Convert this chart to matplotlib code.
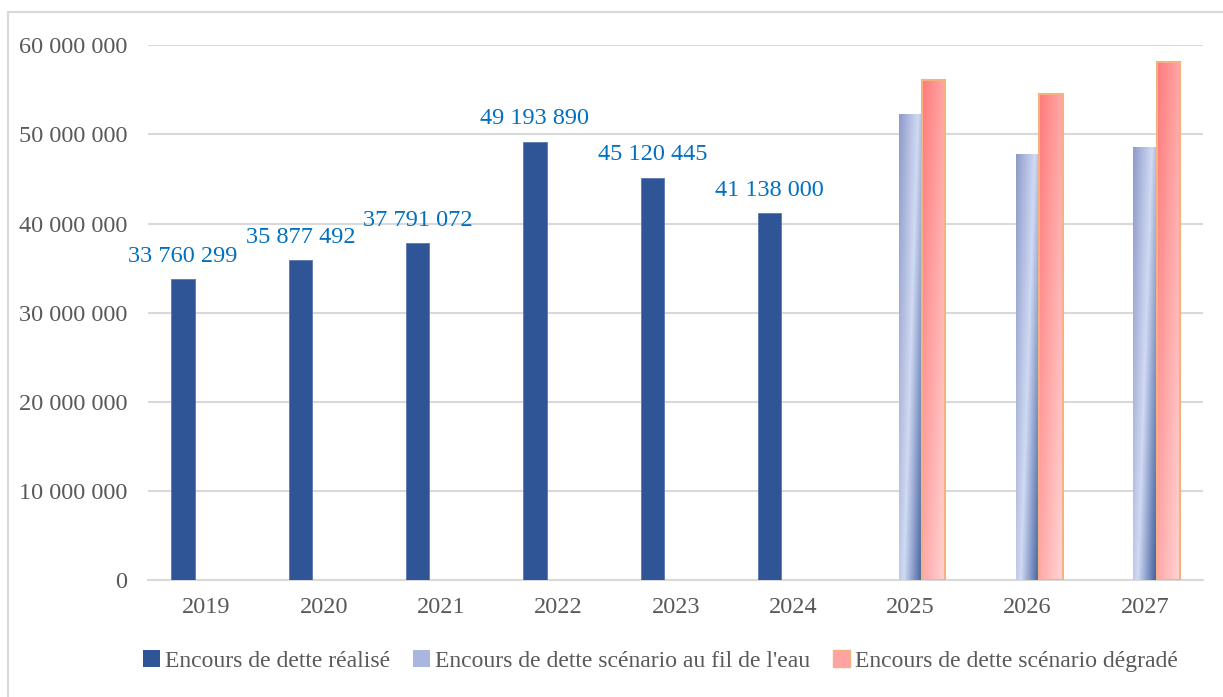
import numpy as np
import matplotlib.pyplot as plt
from matplotlib.patches import Rectangle, Patch
from matplotlib.colors import LinearSegmentedColormap

plt.rcParams['font.family'] = ['Liberation Serif', 'DejaVu Serif']

years = ['2019', '2020', '2021', '2022', '2023', '2024', '2025', '2026', '2027']
realise = [33760299, 35877492, 37791072, 49193890, 45120445, 41138000, 0, 0, 0]
fil_eau = [0, 0, 0, 0, 0, 0, 52300000, 47700000, 48500000]
degrade = [0, 0, 0, 0, 0, 0, 56100000, 54500000, 58100000]
labels = ['Encours de dette réalisé',
          "Encours de dette scénario au fil de l'eau",
          'Encours de dette scénario dégradé']

fig = plt.figure(figsize=(12.23, 6.97), dpi=100)
ax = fig.add_axes([0.121, 0.168, 0.863, 0.767])

# light frame round the whole chart
fig.patches.append(Rectangle((8 / 1223, -0.05), 1.2, 1 - 12 / 697 + 0.05,
                             transform=fig.transFigure, fill=False,
                             edgecolor='#d9d9d9', lw=1.5))

x = np.arange(len(years))
w = 0.2

b1 = ax.bar(x - w, realise, w, color='#2f5597', edgecolor='#5b78b0', lw=0.6, zorder=3)
b2 = ax.bar(x, fil_eau, w, color='none', zorder=3)
b3 = ax.bar(x + w, degrade, w, color='none', edgecolor='#f4b183', lw=1.5, zorder=4)
for bars in (b1, b2, b3):
    for p in bars:
        if p.get_height() <= 0:
            p.set_visible(False)

blue_cm = LinearSegmentedColormap.from_list('b', ['#8e9bca', '#d0daf3', '#3d5a9c'])
red_cm = LinearSegmentedColormap.from_list('r', ['#ff7a7a', '#ffd6d6'])

u, v = np.meshgrid(np.linspace(0, 1, 60), np.linspace(1, 0, 300))
for p in b2:
    if p.get_height() <= 0:
        continue
    t = (u + (1 - v) * 0.6) / 1.6
    ax.imshow(t, cmap=blue_cm, vmin=0, vmax=1, aspect='auto', zorder=3,
              extent=(p.get_x(), p.get_x() + p.get_width(), 0, p.get_height()))
for p in b3:
    if p.get_height() <= 0:
        continue
    t = (u + (1 - v)) / 2
    ax.imshow(t, cmap=red_cm, vmin=0, vmax=1, aspect='auto', zorder=3,
              extent=(p.get_x(), p.get_x() + p.get_width(), 0, p.get_height()))

for p, val in zip(b1, realise):
    if val > 0:
        ax.annotate(f'{val:,}'.replace(',', ' '),
                    (p.get_x() + p.get_width() / 2, val),
                    xytext=(0, 9), textcoords='offset points',
                    ha='center', va='bottom', fontsize=17.5, color='#0070c0')

ax.set_xlim(-0.5, len(years) - 0.5)
ax.set_ylim(0, 60000000)
ax.set_yticks(np.arange(0, 60000001, 10000000))
ax.set_yticklabels([f'{int(t):,}'.replace(',', ' ') for t in np.arange(0, 60000001, 10000000)])
ax.set_xticks(x)
ax.set_xticklabels(years)
ax.tick_params(length=0, labelsize=17.5, labelcolor='#595959')
ax.tick_params(axis='y', pad=15)
ax.tick_params(axis='x', pad=12)
ax.grid(axis='y', color='#d9d9d9', lw=1.5, zorder=0)
for s in ['top', 'right', 'left']:
    ax.spines[s].set_visible(False)
ax.spines['bottom'].set_color('#d9d9d9')
ax.spines['bottom'].set_linewidth(1.5)

handles = [Patch(facecolor='#2f5597'),
           Patch(facecolor='#a8b6e0'),
           Patch(facecolor='#ffa3a3', edgecolor='#f4b183')]
fig.legend(handles, labels, loc='center', bbox_to_anchor=(0.54, 0.052), ncol=3,
           frameon=False, fontsize=17, labelcolor='#595959',
           handlelength=0.7, handleheight=0.7, handletextpad=0.2, columnspacing=1.0)

fig.savefig('out.png', dpi=100)
